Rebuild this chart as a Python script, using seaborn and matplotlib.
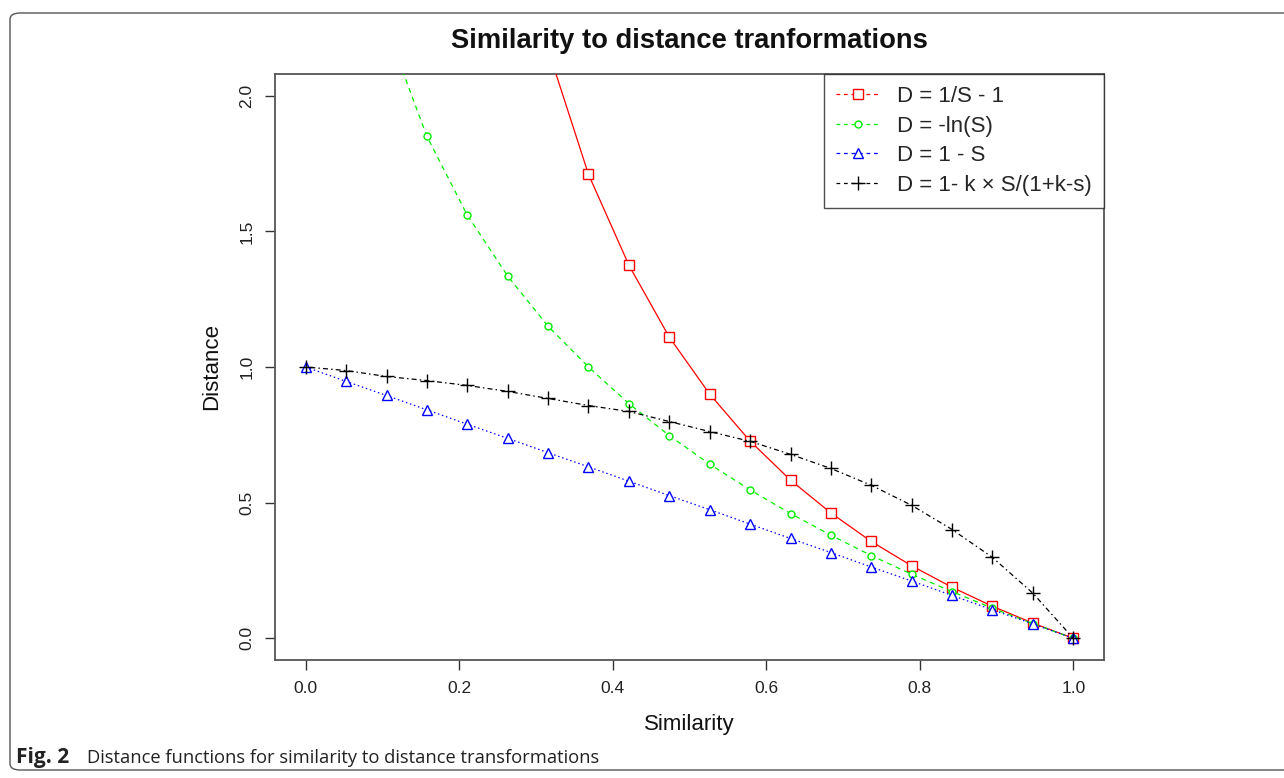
import numpy as np
import pandas as pd
import matplotlib
matplotlib.use("Agg")
import matplotlib.pyplot as plt
import seaborn as sns
from matplotlib.lines import Line2D
from matplotlib.patches import FancyBboxPatch

# ---- data ----
similarity = [0.0, 0.0526, 0.1053, 0.1579, 0.2105, 0.2632, 0.3158, 0.3684, 0.4211, 0.4737,
              0.5263, 0.5789, 0.6316, 0.6842, 0.7368, 0.7895, 0.8421, 0.8947, 0.9474, 1.0]
d_inverse = [np.nan, 18.0, 8.5, 5.33, 3.75, 2.8, 2.17, 1.71, 1.375, 1.11,
             0.90, 0.727, 0.583, 0.462, 0.357, 0.267, 0.188, 0.118, 0.056, 0.0]
d_log = [np.nan, 2.94, 2.25, 1.85, 1.56, 1.335, 1.15, 1.0, 0.865, 0.747,
         0.642, 0.547, 0.46, 0.38, 0.305, 0.236, 0.172, 0.111, 0.054, 0.0]
d_linear = [1.0, 0.947, 0.895, 0.842, 0.789, 0.737, 0.684, 0.632, 0.579, 0.526,
            0.474, 0.421, 0.368, 0.316, 0.263, 0.211, 0.158, 0.105, 0.053, 0.0]
d_k = [1.0, 0.987, 0.965, 0.950, 0.932, 0.910, 0.884, 0.858, 0.836, 0.799,
       0.762, 0.726, 0.678, 0.626, 0.564, 0.490, 0.401, 0.298, 0.166, 0.0]
series_labels = ["D = 1/S - 1", "D = -ln(S)", "D = 1 - S", "D = 1- k \u00d7 S/(1+k-s)"]

title = "Similarity to distance tranformations"
x_label = "Similarity"
y_label = "Distance"
x_ticks = [0.0, 0.2, 0.4, 0.6, 0.8, 1.0]
y_ticks = [0.0, 0.5, 1.0, 1.5, 2.0]

# ---- style ----
sns.set_theme(style="white")
plt.rcParams["font.family"] = ["Liberation Sans", "DejaVu Sans"]

W, H = 1284, 778
fig = plt.figure(figsize=(W / 100, H / 100), dpi=100)
ax = fig.add_axes([275 / W, 1 - 660 / H, (1104 - 275) / W, (660 - 74) / H])

colors = ["#ff0000", "#00ee00", "#0000ff", "#000000"]
markers = ["s", "o", "^", "+"]
msizes = [6.5, 5.0, 7.5, 10]
linestyles = ["-", (0, (4, 3.5)), (0, (1.2, 2.2)), (0, (1.2, 2.5, 4, 2.5))]
series = [d_inverse, d_log, d_linear, d_k]

for vals, lab, c, m, ms, ls in zip(series, series_labels, colors, markers, msizes, linestyles):
    df = pd.DataFrame({"S": similarity, "D": vals})
    sns.lineplot(data=df, x="S", y="D", ax=ax, color=c, marker=m, markersize=ms,
                 markeredgecolor=c, markerfacecolor="white" if m != "+" else c,
                 markeredgewidth=1.0, linewidth=0.9, linestyle=ls, legend=False,
                 zorder=3, clip_on=True)

ax.set_xlim(-0.04, 1.04)
ax.set_ylim(-0.08, 2.08)
ax.set_xticks(x_ticks)
ax.set_xticklabels([f"{t:.1f}" for t in x_ticks], fontsize=12.5)
ax.set_yticks(y_ticks)
ax.set_yticklabels([f"{t:.1f}" for t in y_ticks], fontsize=12.5, rotation=90, va="center")
ax.tick_params(axis="both", direction="out", length=7, width=1.0, color="#333333",
               bottom=True, left=True, pad=8, labelcolor="#222222")
for s in ax.spines.values():
    s.set_visible(True)
    s.set_color("#555555")
    s.set_linewidth(1.3)
ax.set_xlabel(x_label, fontsize=16, labelpad=13, color="#111111")
ax.set_ylabel(y_label, fontsize=16, labelpad=12, color="#111111")
ax.grid(False)

fig.text(689 / W, 1 - 41 / H, title, fontsize=19.7, fontweight="bold",
         ha="center", va="center", color="#111111")

# legend (R style: dashed samples)
handles = []
for lab, c, m, ms in zip(series_labels, colors, markers, msizes):
    handles.append(Line2D([0], [0], color=c, marker=m, markersize=ms, markeredgecolor=c,
                          markerfacecolor="white" if m != "+" else c, markeredgewidth=1.0,
                          linewidth=0.9, linestyle=(0, (3, 3))))
leg = ax.legend(handles, series_labels, loc="upper right", bbox_to_anchor=(1.0, 1.0),
                fontsize=16, frameon=True, fancybox=False, borderaxespad=0,
                handlelength=2.0, handletextpad=0.75, labelspacing=0.38,
                borderpad=0.55, edgecolor="#222222")
leg.get_frame().set_linewidth(1.0)

# outer journal frame and caption
frame = FancyBboxPatch((10 / W, 8 / H), 1.2, 1 - 21 / H,
                       boxstyle="round,pad=0,rounding_size=0.008",
                       transform=fig.transFigure, fill=False, edgecolor="#555555",
                       linewidth=1.0, clip_on=False)
fig.patches.append(frame)
fig.text(16 / W, 1 - 758 / H, "Fig. 2", fontsize=15, fontweight="bold",
         family=["Open Sans", "DejaVu Sans"], ha="left", va="center", color="#222222")
fig.text(87 / W, 1 - 758 / H, "Distance functions for similarity to distance transformations",
         fontsize=13.2, family=["Open Sans", "DejaVu Sans"], ha="left", va="center",
         color="#222222")

fig.savefig("out.png", dpi=100)
